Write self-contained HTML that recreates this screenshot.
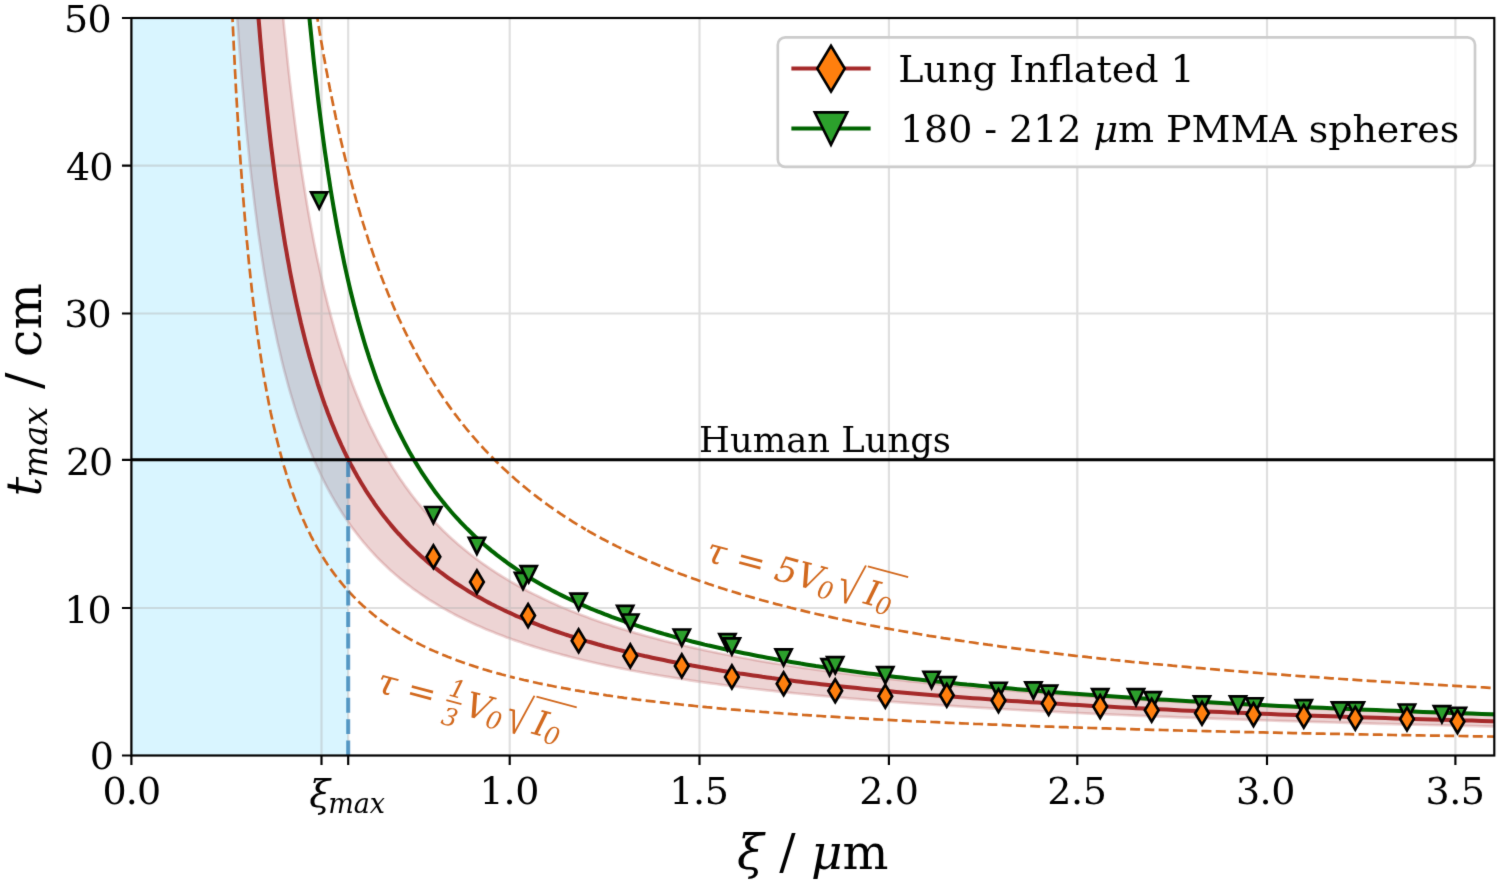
<!DOCTYPE html>
<html lang="en"><head><meta charset="utf-8"><title>t_max vs xi</title>
<style>html,body{margin:0;padding:0;background:#fff;overflow:hidden}svg{display:block}text{font-family:'DejaVu Serif',serif;white-space:pre;font-kerning:none}.i{font-style:italic}.n{font-style:normal}</style></head><body>
<svg width="1499" height="883" viewBox="0 0 1499 883">
<rect width="1499" height="883" fill="#fff"/>
<filter id="b" x="0" y="0" width="1499" height="883" filterUnits="userSpaceOnUse" color-interpolation-filters="sRGB"><feConvolveMatrix order="3" kernelMatrix="0.0100 0.0800 0.0100 0.0800 0.6400 0.0800 0.0100 0.0800 0.0100" edgeMode="duplicate" preserveAlpha="true"/></filter><g filter="url(#b)"><rect width="1499" height="883" fill="#fff"/>
<clipPath id="ax"><rect x="131.40" y="18.00" width="1362.90" height="737.50"/></clipPath>
<g clip-path="url(#ax)">
<path d="M218.5,-405.8L219.3,-377.8L220.1,-350.8L220.9,-324.8L221.8,-299.8L222.6,-275.7L223.4,-252.4L224.3,-230.0L225.2,-208.4L226.0,-187.5L226.9,-167.3L227.8,-147.8L228.7,-129.0L229.6,-110.7L230.5,-93.0L231.4,-75.9L232.4,-59.3L233.3,-43.2L234.2,-27.5L235.2,-12.4L236.2,2.3L237.1,16.6L238.1,30.5L239.1,44.0L240.1,57.1L241.1,69.9L242.1,82.3L243.2,94.4L244.2,106.1L245.2,117.6L246.3,128.7L247.4,139.6L248.5,150.2L249.5,160.5L250.6,170.6L251.7,180.4L252.9,190.0L254.0,199.4L255.1,208.5L256.3,217.4L257.4,226.2L258.6,234.7L259.8,243.0L261.0,251.1L262.2,259.1L263.4,266.9L264.6,274.5L265.9,281.9L267.1,289.2L268.4,296.3L269.6,303.3L270.9,310.1L272.2,316.8L273.5,323.3L274.9,329.7L276.2,336.0L277.5,342.2L278.9,348.2L280.3,354.1L281.6,359.9L283.0,365.6L284.4,371.1L285.9,376.6L287.3,382.0L288.7,387.2L290.2,392.4L291.7,397.4L293.2,402.4L294.7,407.3L296.2,412.1L297.7,416.8L299.3,421.4L300.8,425.9L302.4,430.4L304.0,434.7L305.6,439.0L307.2,443.2L308.8,447.4L310.5,451.5L312.2,455.5L313.8,459.4L315.5,463.3L317.2,467.1L319.0,470.8L320.7,474.5L322.5,478.1L324.2,481.7L326.0,485.2L327.8,488.6L329.7,492.0L331.5,495.3L333.4,498.6L335.2,501.8L337.1,505.0L339.0,508.1L341.0,511.2L342.9,514.2L344.9,517.2L346.9,520.1L348.9,523.0L350.9,525.9L352.9,528.7L355.0,531.4L357.1,534.2L359.2,536.8L361.3,539.5L363.4,542.1L365.6,544.6L367.7,547.1L369.9,549.6L372.2,552.1L374.4,554.5L376.6,556.9L378.9,559.2L381.2,561.5L383.5,563.8L385.9,566.0L388.2,568.3L390.6,570.4L393.0,572.6L395.5,574.7L397.9,576.8L400.4,578.9L402.9,580.9L405.4,582.9L408.0,584.9L410.5,586.8L413.1,588.8L415.7,590.7L418.4,592.5L421.1,594.4L423.7,596.2L426.5,598.0L429.2,599.8L432.0,601.5L434.8,603.2L437.6,604.9L440.4,606.6L443.3,608.3L446.2,609.9L449.1,611.5L452.1,613.1L455.0,614.7L458.0,616.3L461.1,617.8L464.1,619.3L467.2,620.8L470.3,622.3L473.5,623.7L476.7,625.2L479.9,626.6L483.1,628.0L486.4,629.4L489.7,630.8L493.0,632.1L496.4,633.5L499.8,634.8L503.2,636.1L506.6,637.4L510.1,638.6L513.6,639.9L517.2,641.1L520.8,642.3L524.4,643.6L528.0,644.7L531.7,645.9L535.4,647.1L539.2,648.2L543.0,649.4L546.8,650.5L550.7,651.6L554.6,652.7L558.5,653.8L562.5,654.9L566.5,655.9L570.5,657.0L574.6,658.0L578.7,659.0L582.8,660.0L587.0,661.0L591.3,662.0L595.5,663.0L599.9,664.0L604.2,664.9L608.6,665.9L613.0,666.8L617.5,667.7L622.0,668.6L626.6,669.5L631.2,670.4L635.8,671.3L640.5,672.1L645.2,673.0L650.0,673.8L654.8,674.7L659.7,675.5L664.6,676.3L669.5,677.1L674.5,677.9L679.6,678.7L684.7,679.5L689.8,680.3L695.0,681.1L700.2,681.8L705.5,682.6L710.9,683.3L716.2,684.0L721.7,684.8L727.2,685.5L732.7,686.2L738.3,686.9L743.9,687.6L749.6,688.3L755.3,689.0L761.1,689.6L767.0,690.3L772.9,690.9L778.8,691.6L784.9,692.2L790.9,692.9L797.1,693.5L803.2,694.1L809.5,694.7L815.8,695.3L822.1,695.9L828.5,696.5L835.0,697.1L841.6,697.7L848.2,698.3L854.8,698.8L861.5,699.4L868.3,700.0L875.2,700.5L882.1,701.1L889.0,701.6L896.1,702.1L903.2,702.7L910.3,703.2L917.6,703.7L924.9,704.2L932.3,704.7L939.7,705.2L947.2,705.7L954.8,706.2L962.4,706.7L970.1,707.2L977.9,707.7L985.8,708.1L993.7,708.6L1001.7,709.0L1009.8,709.5L1018.0,710.0L1026.2,710.4L1034.5,710.8L1042.9,711.3L1051.4,711.7L1059.9,712.1L1068.6,712.6L1077.3,713.0L1086.0,713.4L1094.9,713.8L1103.9,714.2L1112.9,714.6L1122.0,715.0L1131.2,715.4L1140.5,715.8L1149.9,716.2L1159.3,716.6L1168.9,716.9L1178.5,717.3L1188.2,717.7L1198.1,718.1L1208.0,718.4L1218.0,718.8L1228.1,719.1L1238.2,719.5L1248.5,719.8L1258.9,720.2L1269.4,720.5L1279.9,720.9L1290.6,721.2L1301.4,721.5L1312.3,721.9L1323.2,722.2L1334.3,722.5L1345.5,722.8L1356.7,723.1L1368.1,723.4L1379.6,723.8L1391.2,724.1L1402.9,724.4L1414.7,724.7L1426.6,725.0L1438.7,725.2L1450.8,725.5L1463.1,725.8L1475.4,726.1L1487.9,726.4L1500.5,726.7L1513.2,726.9L1513.2,715.7L1500.5,715.3L1487.9,714.9L1475.4,714.5L1463.1,714.1L1450.8,713.7L1438.7,713.3L1426.6,712.9L1414.7,712.4L1402.9,712.0L1391.2,711.6L1379.6,711.1L1368.1,710.7L1356.7,710.3L1345.5,709.8L1334.3,709.3L1323.2,708.9L1312.3,708.4L1301.4,707.9L1290.6,707.5L1279.9,707.0L1269.4,706.5L1258.9,706.0L1248.5,705.5L1238.2,705.0L1228.1,704.5L1218.0,704.0L1208.0,703.5L1198.1,703.0L1188.2,702.4L1178.5,701.9L1168.9,701.4L1159.3,700.8L1149.9,700.3L1140.5,699.7L1131.2,699.1L1122.0,698.6L1112.9,698.0L1103.9,697.4L1094.9,696.8L1086.0,696.2L1077.3,695.6L1068.6,695.0L1059.9,694.4L1051.4,693.8L1042.9,693.1L1034.5,692.5L1026.2,691.9L1018.0,691.2L1009.8,690.5L1001.7,689.9L993.7,689.2L985.8,688.5L977.9,687.8L970.1,687.1L962.4,686.4L954.8,685.7L947.2,685.0L939.7,684.3L932.3,683.5L924.9,682.8L917.6,682.0L910.3,681.3L903.2,680.5L896.1,679.7L889.0,678.9L882.1,678.1L875.2,677.3L868.3,676.5L861.5,675.7L854.8,674.9L848.2,674.0L841.6,673.2L835.0,672.3L828.5,671.4L822.1,670.5L815.8,669.6L809.5,668.7L803.2,667.8L797.1,666.9L790.9,665.9L784.9,665.0L778.8,664.0L772.9,663.1L767.0,662.1L761.1,661.1L755.3,660.1L749.6,659.0L743.9,658.0L738.3,657.0L732.7,655.9L727.2,654.8L721.7,653.7L716.2,652.6L710.9,651.5L705.5,650.4L700.2,649.3L695.0,648.1L689.8,646.9L684.7,645.8L679.6,644.6L674.5,643.3L669.5,642.1L664.6,640.9L659.7,639.6L654.8,638.3L650.0,637.0L645.2,635.7L640.5,634.4L635.8,633.1L631.2,631.7L626.6,630.3L622.0,628.9L617.5,627.5L613.0,626.1L608.6,624.6L604.2,623.2L599.9,621.7L595.5,620.2L591.3,618.7L587.0,617.1L582.8,615.5L578.7,613.9L574.6,612.3L570.5,610.7L566.5,609.0L562.5,607.4L558.5,605.7L554.6,603.9L550.7,602.2L546.8,600.4L543.0,598.6L539.2,596.8L535.4,594.9L531.7,593.1L528.0,591.2L524.4,589.2L520.8,587.3L517.2,585.3L513.6,583.3L510.1,581.3L506.6,579.2L503.2,577.1L499.8,575.0L496.4,572.8L493.0,570.6L489.7,568.4L486.4,566.1L483.1,563.8L479.9,561.5L476.7,559.1L473.5,556.7L470.3,554.3L467.2,551.8L464.1,549.3L461.1,546.8L458.0,544.2L455.0,541.6L452.1,538.9L449.1,536.2L446.2,533.5L443.3,530.7L440.4,527.8L437.6,524.9L434.8,522.0L432.0,519.0L429.2,516.0L426.5,512.9L423.7,509.8L421.1,506.6L418.4,503.4L415.7,500.1L413.1,496.7L410.5,493.4L408.0,489.9L405.4,486.4L402.9,482.8L400.4,479.2L397.9,475.5L395.5,471.7L393.0,467.9L390.6,464.0L388.2,460.0L385.9,455.9L383.5,451.8L381.2,447.6L378.9,443.4L376.6,439.0L374.4,434.6L372.2,430.1L369.9,425.5L367.7,420.8L365.6,416.0L363.4,411.1L361.3,406.2L359.2,401.1L357.1,396.0L355.0,390.7L352.9,385.3L350.9,379.8L348.9,374.3L346.9,368.6L344.9,362.7L342.9,356.8L341.0,350.7L339.0,344.5L337.1,338.2L335.2,331.7L333.4,325.1L331.5,318.3L329.7,311.4L327.8,304.4L326.0,297.1L324.2,289.7L322.5,282.2L320.7,274.5L319.0,266.5L317.2,258.4L315.5,250.1L313.8,241.6L312.2,232.9L310.5,224.0L308.8,214.8L307.2,205.4L305.6,195.8L304.0,185.9L302.4,175.8L300.8,165.4L299.3,154.7L297.7,143.7L296.2,132.5L294.7,120.9L293.2,109.0L291.7,96.7L290.2,84.1L288.7,71.1L287.3,57.8L285.9,44.0L284.4,29.8L283.0,15.2L281.6,0.1L280.3,-15.4L278.9,-31.5L277.5,-48.1L276.2,-65.2L274.9,-83.0L273.5,-101.3L272.2,-120.2L270.9,-139.9L269.6,-160.2L268.4,-181.3L267.1,-203.2L265.9,-225.9L264.6,-249.5L263.4,-274.0L262.2,-299.5L261.0,-326.0L259.8,-353.7L258.6,-382.5L257.4,-412.6L256.3,-424.5L255.1,-424.5L254.0,-424.5L252.9,-424.5L251.7,-424.5L250.6,-424.5L249.5,-424.5L248.5,-424.5L247.4,-424.5L246.3,-424.5L245.2,-424.5L244.2,-424.5L243.2,-424.5L242.1,-424.5L241.1,-424.5L240.1,-424.5L239.1,-424.5L238.1,-424.5L237.1,-424.5L236.2,-424.5L235.2,-424.5L234.2,-424.5L233.3,-424.5L232.4,-424.5L231.4,-424.5L230.5,-424.5L229.6,-424.5L228.7,-424.5L227.8,-424.5L226.9,-424.5L226.0,-424.5L225.2,-424.5L224.3,-424.5L223.4,-424.5L222.6,-424.5L221.8,-424.5L220.9,-424.5L220.1,-424.5L219.3,-424.5L218.5,-424.5Z" fill="#a52a2a" fill-opacity="0.2" stroke="#a52a2a" stroke-opacity="0.2" stroke-width="2.69" stroke-linejoin="miter"/>
<path d="M131.4,755.5L131.4,-55.8L245.0,-55.8L246.0,-55.8L247.1,-55.8L248.1,-55.8L249.1,-55.8L250.2,-55.8L251.2,-55.8L252.3,-55.8L253.3,-51.6L254.4,-36.6L255.4,-22.1L256.4,-8.2L257.5,5.3L258.5,18.3L259.6,30.8L260.6,43.0L261.7,54.7L262.7,66.0L263.7,77.0L264.8,87.7L265.8,98.0L266.9,108.0L267.9,117.7L269.0,127.1L270.0,136.2L271.0,145.1L272.1,153.7L273.1,162.1L274.2,170.3L275.2,178.2L276.3,185.9L277.3,193.4L278.3,200.8L279.4,207.9L280.4,214.8L281.5,221.6L282.5,228.2L283.6,234.7L284.6,241.0L285.6,247.1L286.7,253.1L287.7,259.0L288.8,264.7L289.8,270.3L290.9,275.8L291.9,281.1L292.9,286.3L294.0,291.4L295.0,296.4L296.1,301.3L297.1,306.1L298.2,310.8L299.2,315.4L300.2,319.9L301.3,324.3L302.3,328.7L303.4,332.9L304.4,337.0L305.5,341.1L306.5,345.1L307.5,349.0L308.6,352.9L309.6,356.6L310.7,360.3L311.7,364.0L312.8,367.5L313.8,371.0L314.8,374.5L315.9,377.9L316.9,381.2L318.0,384.4L319.0,387.6L320.1,390.8L321.1,393.9L322.1,396.9L323.2,399.9L324.2,402.9L325.3,405.8L326.3,408.6L327.4,411.4L328.4,414.2L329.4,416.9L330.5,419.6L331.5,422.2L332.6,424.8L333.6,427.3L334.7,429.8L335.7,432.3L336.7,434.8L337.8,437.1L338.8,439.5L339.9,441.8L340.9,444.1L342.0,446.4L343.0,448.6L344.0,450.8L345.1,453.0L346.1,455.1L347.2,457.2L348.2,459.3L348.2,755.5Z" fill="#00bfff" fill-opacity="0.15"/>
</g>
<path d="M131.40,755.50V18.00M321.50,755.50V18.00M348.20,755.50V18.00M509.70,755.50V18.00M699.50,755.50V18.00M888.90,755.50V18.00M1077.30,755.50V18.00M1267.00,755.50V18.00M1455.40,755.50V18.00M131.40,755.50H1494.30M131.40,608.00H1494.30M131.40,459.80H1494.30M131.40,313.50H1494.30M131.40,165.70H1494.30M131.40,18.00H1494.30" stroke="#b0b0b0" stroke-opacity="0.4" stroke-width="2.16" fill="none"/>
<g clip-path="url(#ax)" fill="none">
<path d="M252.9,-57.3L253.8,-44.1L254.7,-31.3L255.7,-18.7L256.6,-6.5L257.5,5.4L258.4,17.1L259.4,28.5L260.3,39.6L261.3,50.5L262.2,61.1L263.2,71.5L264.2,81.6L265.2,91.5L266.2,101.2L267.2,110.7L268.2,120.0L269.2,129.1L270.2,138.0L271.2,146.7L272.3,155.2L273.3,163.6L274.4,171.8L275.4,179.8L276.5,187.7L277.6,195.4L278.7,202.9L279.8,210.3L280.9,217.6L282.0,224.7L283.1,231.7L284.2,238.6L285.3,245.3L286.5,251.9L287.6,258.4L288.8,264.7L289.9,271.0L291.1,277.1L292.3,283.1L293.5,289.1L294.7,294.9L295.9,300.6L297.1,306.2L298.4,311.7L299.6,317.1L300.8,322.5L302.1,327.7L303.4,332.9L304.6,337.9L305.9,342.9L307.2,347.8L308.5,352.6L309.8,357.4L311.2,362.0L312.5,366.6L313.8,371.2L315.2,375.6L316.6,380.0L317.9,384.3L319.3,388.5L320.7,392.7L322.1,396.8L323.5,400.9L324.9,404.9L326.4,408.8L327.8,412.7L329.3,416.5L330.7,420.2L332.2,423.9L333.7,427.6L335.2,431.2L336.7,434.7L338.2,438.2L339.8,441.6L341.3,445.0L342.9,448.4L344.4,451.7L346.0,454.9L347.6,458.1L349.2,461.3L350.8,464.4L352.5,467.5L354.1,470.5L355.8,473.5L357.4,476.4L359.1,479.3L360.8,482.2L362.5,485.0L364.2,487.8L365.9,490.6L367.7,493.3L369.4,496.0L371.2,498.6L373.0,501.2L374.7,503.8L376.5,506.4L378.4,508.9L380.2,511.4L382.0,513.8L383.9,516.2L385.8,518.6L387.7,521.0L389.6,523.3L391.5,525.6L393.4,527.9L395.3,530.1L397.3,532.4L399.3,534.5L401.3,536.7L403.3,538.8L405.3,540.9L407.3,543.0L409.3,545.1L411.4,547.1L413.5,549.1L415.6,551.1L417.7,553.1L419.8,555.0L421.9,556.9L424.1,558.8L426.3,560.7L428.5,562.6L430.7,564.4L432.9,566.2L435.1,568.0L437.4,569.7L439.6,571.5L441.9,573.2L444.2,574.9L446.5,576.6L448.9,578.3L451.2,579.9L453.6,581.6L456.0,583.2L458.4,584.8L460.8,586.3L463.3,587.9L465.7,589.4L468.2,591.0L470.7,592.5L473.2,594.0L475.7,595.4L478.3,596.9L480.9,598.3L483.5,599.8L486.1,601.2L488.7,602.6L491.3,604.0L494.0,605.3L496.7,606.7L499.4,608.0L502.1,609.3L504.9,610.7L507.7,612.0L510.4,613.2L513.3,614.5L516.1,615.8L518.9,617.0L521.8,618.2L524.7,619.5L527.6,620.7L530.6,621.9L533.5,623.0L536.5,624.2L539.5,625.4L542.5,626.5L545.6,627.6L548.7,628.8L551.7,629.9L554.9,631.0L558.0,632.0L561.2,633.1L564.3,634.2L567.6,635.2L570.8,636.3L574.0,637.3L577.3,638.3L580.6,639.4L584.0,640.4L587.3,641.4L590.7,642.3L594.1,643.3L597.5,644.3L601.0,645.2L604.5,646.2L608.0,647.1L611.5,648.0L615.1,649.0L618.7,649.9L622.3,650.8L625.9,651.7L629.6,652.5L633.3,653.4L637.0,654.3L640.7,655.1L644.5,656.0L648.3,656.8L652.2,657.7L656.0,658.5L659.9,659.3L663.8,660.1L667.8,660.9L671.7,661.7L675.8,662.5L679.8,663.3L683.9,664.0L688.0,664.8L692.1,665.6L696.2,666.3L700.4,667.1L704.6,667.8L708.9,668.5L713.2,669.3L717.5,670.0L721.8,670.7L726.2,671.4L730.6,672.1L735.1,672.8L739.5,673.5L744.0,674.1L748.6,674.8L753.2,675.5L757.8,676.1L762.4,676.8L767.1,677.4L771.8,678.1L776.6,678.7L781.3,679.3L786.2,680.0L791.0,680.6L795.9,681.2L800.8,681.8L805.8,682.4L810.8,683.0L815.8,683.6L820.9,684.2L826.0,684.8L831.2,685.3L836.4,685.9L841.6,686.5L846.8,687.0L852.1,687.6L857.5,688.1L862.9,688.7L868.3,689.2L873.8,689.8L879.3,690.3L884.8,690.8L890.4,691.3L896.0,691.9L901.7,692.4L907.4,692.9L913.2,693.4L918.9,693.9L924.8,694.4L930.7,694.9L936.6,695.4L942.6,695.8L948.6,696.3L954.6,696.8L960.7,697.3L966.9,697.7L973.1,698.2L979.3,698.6L985.6,699.1L991.9,699.5L998.3,700.0L1004.7,700.4L1011.2,700.9L1017.7,701.3L1024.3,701.7L1030.9,702.2L1037.6,702.6L1044.3,703.0L1051.1,703.4L1057.9,703.8L1064.8,704.3L1071.7,704.7L1078.7,705.1L1085.7,705.5L1092.8,705.9L1099.9,706.2L1107.1,706.6L1114.3,707.0L1121.6,707.4L1128.9,707.8L1136.3,708.2L1143.8,708.5L1151.3,708.9L1158.9,709.3L1166.5,709.6L1174.1,710.0L1181.9,710.4L1189.7,710.7L1197.5,711.1L1205.4,711.4L1213.4,711.8L1221.4,712.1L1229.5,712.4L1237.6,712.8L1245.8,713.1L1254.1,713.4L1262.4,713.8L1270.8,714.1L1279.2,714.4L1287.7,714.7L1296.3,715.1L1305.0,715.4L1313.7,715.7L1322.4,716.0L1331.3,716.3L1340.1,716.6L1349.1,716.9L1358.1,717.2L1367.2,717.5L1376.4,717.8L1385.6,718.1L1394.9,718.4L1404.3,718.7L1413.7,719.0L1423.2,719.2L1432.8,719.5L1442.5,719.8L1452.2,720.1L1462.0,720.4L1471.8,720.6L1481.8,720.9L1491.8,721.2L1501.9,721.4" stroke="#a52a2a" stroke-width="4.04"/>
<path d="M302.1,-68.7L303.4,-52.4L304.6,-36.6L305.9,-21.3L307.2,-6.4L308.5,8.0L309.8,21.9L311.2,35.5L312.5,48.6L313.8,61.4L315.2,73.8L316.6,85.8L317.9,97.5L319.3,108.9L320.7,120.0L322.1,130.8L323.5,141.3L324.9,151.6L326.4,161.6L327.8,171.3L329.3,180.7L330.7,190.0L332.2,199.0L333.7,207.8L335.2,216.4L336.7,224.8L338.2,232.9L339.8,240.9L341.3,248.7L342.9,256.4L344.4,263.8L346.0,271.1L347.6,278.2L349.2,285.2L350.8,292.0L352.5,298.7L354.1,305.2L355.8,311.6L357.4,317.9L359.1,324.0L360.8,330.0L362.5,335.9L364.2,341.7L365.9,347.3L367.7,352.9L369.4,358.3L371.2,363.6L373.0,368.8L374.7,373.9L376.5,379.0L378.4,383.9L380.2,388.7L382.0,393.5L383.9,398.1L385.8,402.7L387.7,407.2L389.6,411.6L391.5,415.9L393.4,420.2L395.3,424.4L397.3,428.5L399.3,432.5L401.3,436.5L403.3,440.4L405.3,444.2L407.3,448.0L409.3,451.7L411.4,455.3L413.5,458.9L415.6,462.4L417.7,465.9L419.8,469.3L421.9,472.6L424.1,475.9L426.3,479.2L428.5,482.4L430.7,485.5L432.9,488.6L435.1,491.7L437.4,494.7L439.6,497.6L441.9,500.6L444.2,503.4L446.5,506.2L448.9,509.0L451.2,511.8L453.6,514.5L456.0,517.1L458.4,519.7L460.8,522.3L463.3,524.9L465.7,527.4L468.2,529.8L470.7,532.3L473.2,534.7L475.7,537.1L478.3,539.4L480.9,541.7L483.5,544.0L486.1,546.2L488.7,548.4L491.3,550.6L494.0,552.7L496.7,554.9L499.4,556.9L502.1,559.0L504.9,561.0L507.7,563.1L510.4,565.0L513.3,567.0L516.1,568.9L518.9,570.8L521.8,572.7L524.7,574.6L527.6,576.4L530.6,578.2L533.5,580.0L536.5,581.7L539.5,583.5L542.5,585.2L545.6,586.9L548.7,588.6L551.7,590.2L554.9,591.9L558.0,593.5L561.2,595.1L564.3,596.6L567.6,598.2L570.8,599.7L574.0,601.2L577.3,602.7L580.6,604.2L584.0,605.7L587.3,607.1L590.7,608.6L594.1,610.0L597.5,611.4L601.0,612.7L604.5,614.1L608.0,615.4L611.5,616.8L615.1,618.1L618.7,619.4L622.3,620.7L625.9,621.9L629.6,623.2L633.3,624.4L637.0,625.7L640.7,626.9L644.5,628.1L648.3,629.3L652.2,630.4L656.0,631.6L659.9,632.7L663.8,633.9L667.8,635.0L671.7,636.1L675.8,637.2L679.8,638.3L683.9,639.4L688.0,640.4L692.1,641.5L696.2,642.5L700.4,643.5L704.6,644.6L708.9,645.6L713.2,646.5L717.5,647.5L721.8,648.5L726.2,649.5L730.6,650.4L735.1,651.4L739.5,652.3L744.0,653.2L748.6,654.1L753.2,655.0L757.8,655.9L762.4,656.8L767.1,657.7L771.8,658.5L776.6,659.4L781.3,660.3L786.2,661.1L791.0,661.9L795.9,662.7L800.8,663.6L805.8,664.4L810.8,665.2L815.8,666.0L820.9,666.7L826.0,667.5L831.2,668.3L836.4,669.0L841.6,669.8L846.8,670.5L852.1,671.3L857.5,672.0L862.9,672.7L868.3,673.4L873.8,674.1L879.3,674.8L884.8,675.5L890.4,676.2L896.0,676.9L901.7,677.6L907.4,678.2L913.2,678.9L918.9,679.5L924.8,680.2L930.7,680.8L936.6,681.5L942.6,682.1L948.6,682.7L954.6,683.3L960.7,683.9L966.9,684.6L973.1,685.1L979.3,685.7L985.6,686.3L991.9,686.9L998.3,687.5L1004.7,688.1L1011.2,688.6L1017.7,689.2L1024.3,689.7L1030.9,690.3L1037.6,690.8L1044.3,691.4L1051.1,691.9L1057.9,692.4L1064.8,693.0L1071.7,693.5L1078.7,694.0L1085.7,694.5L1092.8,695.0L1099.9,695.5L1107.1,696.0L1114.3,696.5L1121.6,697.0L1128.9,697.5L1136.3,698.0L1143.8,698.4L1151.3,698.9L1158.9,699.4L1166.5,699.8L1174.1,700.3L1181.9,700.7L1189.7,701.2L1197.5,701.6L1205.4,702.1L1213.4,702.5L1221.4,702.9L1229.5,703.4L1237.6,703.8L1245.8,704.2L1254.1,704.6L1262.4,705.0L1270.8,705.5L1279.2,705.9L1287.7,706.3L1296.3,706.7L1305.0,707.1L1313.7,707.5L1322.4,707.8L1331.3,708.2L1340.1,708.6L1349.1,709.0L1358.1,709.4L1367.2,709.7L1376.4,710.1L1385.6,710.5L1394.9,710.8L1404.3,711.2L1413.7,711.5L1423.2,711.9L1432.8,712.3L1442.5,712.6L1452.2,712.9L1462.0,713.3L1471.8,713.6L1481.8,714.0L1491.8,714.3L1501.9,714.6" stroke="#006400" stroke-width="4.04"/>
<path d="M308.6,-41.0L309.2,-36.2L309.9,-31.4L310.6,-26.6L311.3,-21.9L311.9,-17.2L312.6,-12.6L313.3,-8.0L314.0,-3.4L314.7,1.1L315.4,5.6L316.1,10.1L316.8,14.5L317.5,18.9L318.2,23.2L318.9,27.6L319.6,31.8L320.3,36.1L321.0,40.3L321.8,44.5L322.5,48.6L323.2,52.7L323.9,56.8L324.7,60.8L325.4,64.9L326.1,68.9L326.9,72.8L327.6,76.7L328.3,80.6L329.1,84.5L329.8,88.3L330.6,92.1L331.4,95.9L332.1,99.6L332.9,103.4L333.6,107.1L334.4,110.7L335.2,114.4L335.9,118.0L336.7,121.5L337.5,125.1L338.3,128.6L339.1,132.1L339.8,135.6L340.6,139.1L341.4,142.5L342.2,145.9L343.0,149.3L343.8,152.6L344.6,155.9L345.4,159.2L346.2,162.5L347.1,165.8L347.9,169.0L348.7,172.2L349.5,175.4L350.3,178.6L351.2,181.7L352.0,184.8L352.8,187.9L353.7,191.0L354.5,194.0L355.4,197.1L356.2,200.1L357.1,203.1L357.9,206.0L358.8,209.0L359.7,211.9L360.5,214.8L361.4,217.7L362.3,220.6L363.1,223.4L364.0,226.2L364.9,229.1L365.8,231.8L366.7,234.6L367.6,237.4L368.4,240.1L369.3,242.8L370.2,245.5L371.2,248.2L372.1,250.8L373.0,253.5L373.9,256.1L374.8,258.7L375.7,261.3L376.7,263.9L377.6,266.4L378.5,269.0L379.5,271.5L380.4,274.0L381.3,276.5L382.3,278.9L383.2,281.4L384.2,283.8L385.1,286.3L386.1,288.7L387.1,291.1L388.0,293.4L389.0,295.8L390.0,298.2L391.0,300.5L392.0,302.8L392.9,305.1L393.9,307.4L394.9,309.7L395.9,311.9L396.9,314.2L397.9,316.4L398.9,318.6L400.0,320.8L401.0,323.0L402.0,325.2L403.0,327.3L404.1,329.5L405.1,331.6L406.1,333.7L407.2,335.8L408.2,337.9L409.3,340.0L410.3,342.1L411.4,344.1L412.4,346.2L413.5,348.2L414.6,350.2L415.6,352.2L416.7,354.2L417.8,356.2L418.9,358.2L420.0,360.1L421.1,362.1L422.2,364.0L423.3,365.9L424.4,367.8L425.5,369.7L426.6,371.6L427.7,373.5L428.8,375.4L430.0,377.2L431.1,379.1L432.2,380.9L433.4,382.7L434.5,384.5L435.7,386.3L436.8,388.1L438.0,389.9L439.1,391.6L440.3,393.4L441.5,395.1L442.6,396.9L443.8,398.6L445.0,400.3L446.2,402.0L447.4,403.7L448.6,405.4L449.8,407.1L451.0,408.8L452.2,410.4L453.4,412.1L454.6,413.7L455.9,415.3L457.1,416.9L458.3,418.5L459.6,420.1L460.8,421.7L462.1,423.3L463.3,424.9L464.6,426.5L465.8,428.0L467.1,429.6L468.4,431.1L469.6,432.6L470.9,434.1L472.2,435.7L473.5,437.2L474.8,438.7L476.1,440.1L477.4,441.6L478.7,443.1L480.0,444.6L481.4,446.0L482.7,447.5L484.0,448.9L485.3,450.3L486.7,451.7L488.0,453.2L489.4,454.6L490.7,456.0L492.1,457.3L493.5,458.7L494.8,460.1L496.2,461.5L497.6,462.8L499.0,464.2L500.4,465.5L501.8,466.9L503.2,468.2L504.6,469.5L506.0,470.8L507.4,472.1L508.9,473.5L510.3,474.7L511.7,476.0L513.2,477.3L514.6,478.6L516.1,479.9L517.5,481.1L519.0,482.4L520.4,483.6L521.9,484.9L523.4,486.1L524.9,487.3L526.4,488.5L527.9,489.8L529.4,491.0L530.9,492.2L532.4,493.4L533.9,494.5L535.4,495.7L537.0,496.9L538.5,498.1L540.1,499.2L541.6,500.4L543.2,501.5L544.7,502.7L546.3,503.8L547.9,505.0L549.4,506.1L551.0,507.2L552.6,508.3L554.2,509.4L555.8,510.5L557.4,511.6L559.0,512.7L560.6,513.8L562.3,514.9L563.9,516.0L565.5,517.0L567.2,518.1L568.8,519.2L570.5,520.2L572.2,521.3L573.8,522.3L575.5,523.4L577.2,524.4L578.9,525.4L580.6,526.4L582.3,527.4L584.0,528.5L585.7,529.5" stroke="#d2691e" stroke-width="2.69" stroke-dasharray="9.97 4.31" stroke-dashoffset="3.65"/>
<path d="M585.7,529.5L587.7,530.6L589.7,531.8L591.8,533.0L593.8,534.1L595.9,535.3L597.9,536.4L600.0,537.5L602.1,538.7L604.2,539.8L606.3,540.9L608.4,542.0L610.5,543.1L612.7,544.2L614.8,545.3L616.9,546.4L619.1,547.4L621.3,548.5L623.4,549.6L625.6,550.6L627.8,551.7L630.0,552.7L632.3,553.7L634.5,554.8L636.7,555.8L639.0,556.8L641.2,557.8L643.5,558.8L645.8,559.8L648.0,560.8L650.3,561.8L652.6,562.8L655.0,563.8L657.3,564.8L659.6,565.7L662.0,566.7L664.3,567.6L666.7,568.6L669.1,569.5L671.5,570.5L673.9,571.4L676.3,572.3L678.7,573.3L681.1,574.2L683.6,575.1L686.0,576.0L688.5,576.9L691.0,577.8L693.5,578.7L696.0,579.6L698.5,580.5L701.0,581.4L703.5,582.2L706.1,583.1L708.6,584.0L711.2,584.8L713.8,585.7L716.3,586.5L718.9,587.4L721.6,588.2L724.2,589.0L726.8,589.9L729.5,590.7L732.1,591.5L734.8,592.3L737.5,593.1L740.2,594.0L742.9,594.8L745.6,595.6L748.3,596.3L751.1,597.1L753.8,597.9L756.6,598.7L759.4,599.5L762.1,600.3L764.9,601.0L767.8,601.8L770.6,602.5L773.4,603.3L776.3,604.1L779.2,604.8L782.0,605.5L784.9,606.3L787.8,607.0L790.7,607.8L793.7,608.5L796.6,609.2L799.6,609.9L802.5,610.6L805.5,611.4L808.5,612.1L811.5,612.8L814.6,613.5L817.6,614.2L820.6,614.9L823.7,615.5L826.8,616.2L829.9,616.9L833.0,617.6L836.1,618.3L839.2,618.9L842.4,619.6L845.5,620.3L848.7,620.9L851.9,621.6L855.1,622.2L858.3,622.9L861.5,623.5L864.8,624.2L868.0,624.8L871.3,625.5L874.6,626.1L877.9,626.7L881.2,627.3L884.6,628.0L887.9,628.6L891.3,629.2L894.6,629.8L898.0,630.4L901.4,631.0L904.9,631.6L908.3,632.2L911.8,632.8L915.2,633.4L918.7,634.0L922.2,634.6L925.7,635.2L929.2,635.8L932.8,636.3L936.4,636.9L939.9,637.5L943.5,638.1L947.1,638.6L950.8,639.2L954.4,639.8L958.1,640.3L961.7,640.9L965.4,641.4L969.1,642.0L972.9,642.5L976.6,643.1L980.4,643.6L984.1,644.1L987.9,644.7L991.7,645.2L995.5,645.7L999.4,646.3L1003.2,646.8L1007.1,647.3L1011.0,647.8L1014.9,648.3L1018.8,648.8L1022.8,649.4L1026.7,649.9L1030.7,650.4L1034.7,650.9L1038.7,651.4L1042.8,651.9L1046.8,652.4L1050.9,652.9L1055.0,653.3L1059.1,653.8L1063.2,654.3L1067.3,654.8L1071.5,655.3L1075.7,655.8L1079.9,656.2L1084.1,656.7L1088.3,657.2L1092.6,657.6L1096.9,658.1L1101.1,658.6L1105.5,659.0L1109.8,659.5L1114.1,660.0L1118.5,660.4L1122.9,660.9L1127.3,661.3L1131.7,661.8L1136.2,662.2L1140.6,662.6L1145.1,663.1L1149.6,663.5L1154.1,664.0L1158.7,664.4L1163.3,664.8L1167.8,665.2L1172.4,665.7L1177.1,666.1L1181.7,666.5L1186.4,666.9L1191.1,667.4L1195.8,667.8L1200.5,668.2L1205.3,668.6L1210.0,669.0L1214.8,669.4L1219.6,669.8L1224.5,670.2L1229.3,670.6L1234.2,671.0L1239.1,671.4L1244.0,671.8L1249.0,672.2L1254.0,672.6L1258.9,673.0L1264.0,673.4L1269.0,673.8L1274.0,674.2L1279.1,674.5L1284.2,674.9L1289.3,675.3L1294.5,675.7L1299.7,676.1L1304.9,676.4L1310.1,676.8L1315.3,677.2L1320.6,677.5L1325.9,677.9L1331.2,678.3L1336.5,678.6L1341.9,679.0L1347.2,679.3L1352.6,679.7L1358.1,680.1L1363.5,680.4L1369.0,680.8L1374.5,681.1L1380.0,681.5L1385.6,681.8L1391.1,682.1L1396.7,682.5L1402.4,682.8L1408.0,683.2L1413.7,683.5L1419.4,683.8L1425.1,684.2L1430.9,684.5L1436.6,684.8L1442.4,685.2L1448.3,685.5L1454.1,685.8L1460.0,686.2L1465.9,686.5L1471.8,686.8L1477.8,687.1L1483.8,687.4L1489.8,687.8L1495.8,688.1L1501.9,688.4" stroke="#d2691e" stroke-width="2.69" stroke-dasharray="9.97 4.31" stroke-dashoffset="12.49"/>
<path d="M230.0,-41.0L230.5,-27.4L231.1,-14.2L231.6,-1.4L232.2,11.1L232.7,23.2L233.3,35.0L233.8,46.5L234.4,57.7L234.9,68.6L235.5,79.2L236.0,89.6L236.6,99.6L237.2,109.5L237.8,119.1L238.3,128.5L238.9,137.6L239.5,146.5L240.1,155.3L240.7,163.8L241.3,172.1L241.9,180.3L242.4,188.2L243.1,196.0L243.7,203.6L244.3,211.1L244.9,218.4L245.5,225.5L246.1,232.5L246.7,239.3L247.4,246.0L248.0,252.6L248.6,259.0L249.2,265.3L249.9,271.5L250.5,277.5L251.2,283.5L251.8,289.3L252.5,295.0L253.1,300.6L253.8,306.1L254.5,311.5L255.1,316.8L255.8,322.0L256.5,327.1L257.1,332.1L257.8,337.0L258.5,341.8L259.2,346.6L259.9,351.3L260.6,355.8L261.3,360.3L262.0,364.8L262.7,369.1L263.4,373.4L264.1,377.6L264.8,381.8L265.6,385.8L266.3,389.8L267.0,393.8L267.8,397.7L268.5,401.5L269.2,405.2L270.0,408.9L270.7,412.6L271.5,416.1L272.3,419.7L273.0,423.1L273.8,426.6L274.6,429.9L275.3,433.2L276.1,436.5L276.9,439.7L277.7,442.9L278.5,446.0L279.3,449.1L280.1,452.1L280.9,455.1L281.7,458.1L282.5,461.0L283.3,463.9L284.1,466.7L285.0,469.5L285.8,472.2L286.6,474.9L287.5,477.6L288.3,480.2L289.2,482.8L290.0,485.4L290.9,487.9L291.8,490.4L292.6,492.9L293.5,495.3L294.4,497.7L295.3,500.1L296.1,502.4L297.0,504.7L297.9,507.0L298.8,509.3L299.7,511.5L300.7,513.7L301.6,515.9L302.5,518.0L303.4,520.1L304.4,522.2L305.3,524.3L306.2,526.3L307.2,528.3L308.1,530.3L309.1,532.2L310.1,534.2L311.0,536.1L312.0,538.0L313.0,539.9L314.0,541.7L314.9,543.5L315.9,545.3L316.9,547.1L317.9,548.9L319.0,550.6L320.0,552.4L321.0,554.1L322.0,555.8L323.0,557.4L324.1,559.1L325.1,560.7L326.2,562.3L327.2,563.9L328.3,565.5L329.4,567.0L330.4,568.6L331.5,570.1L332.6,571.6L333.7,573.1L334.8,574.6L335.9,576.0L337.0,577.5L338.1,578.9L339.2,580.3L340.4,581.7L341.5,583.1L342.6,584.5L343.8,585.8L344.9,587.1L346.1,588.5L347.2,589.8L348.4,591.1L349.6,592.4L350.8,593.6L352.0,594.9L353.1,596.1L354.4,597.4L355.6,598.6L356.8,599.8L358.0,601.0L359.2,602.2L360.5,603.4L361.7,604.5L362.9,605.7L364.2,606.8L365.5,607.9L366.7,609.1L368.0,610.2L369.3,611.3L370.6,612.3L371.9,613.4L373.2,614.5L374.5,615.5L375.8,616.6L377.1,617.6L378.5,618.6L379.8,619.7L381.1,620.7L382.5,621.7L383.9,622.6L385.2,623.6L386.6,624.6L388.0,625.5L389.4,626.5L390.8,627.4L392.2,628.4L393.6,629.3L395.0,630.2L396.4,631.1L397.9,632.0L399.3,632.9L400.8,633.8L402.2,634.7L403.7,635.5L405.2,636.4L406.6,637.2L408.1,638.1L409.6,638.9L411.1,639.8L412.7,640.6L414.2,641.4L415.7,642.2L417.3,643.0L418.8,643.8L420.4,644.6L421.9,645.4L423.5,646.1L425.1,646.9L426.7,647.7L428.3,648.4L429.9,649.2L431.5,649.9L433.1,650.6L434.8,651.4L436.4,652.1L438.1,652.8L439.7,653.5L441.4,654.2L443.1,654.9L444.8,655.6L446.5,656.3L448.2,657.0L449.9,657.6L451.6,658.3L453.3,659.0L455.1,659.6L456.8,660.3L458.6,660.9L460.4,661.6L462.2,662.2L463.9,662.8L465.7,663.5L467.6,664.1L469.4,664.7L471.2,665.3L473.0,665.9L474.9,666.5L476.8,667.1L478.6,667.7L480.5,668.3L482.4,668.9L484.3,669.5L486.2,670.0L488.1,670.6L490.1,671.2L492.0,671.7L494.0,672.3L495.9,672.8L497.9,673.4L499.9,673.9L501.9,674.5L503.9,675.0L505.9,675.5L507.9,676.0L510.0,676.6" stroke="#d2691e" stroke-width="2.69" stroke-dasharray="9.97 4.31" stroke-dashoffset="3.94"/>
<path d="M510.0,676.6L511.9,677.1L513.9,677.6L515.9,678.0L517.9,678.5L519.9,679.0L521.9,679.5L523.9,680.0L526.0,680.4L528.0,680.9L530.1,681.4L532.1,681.8L534.2,682.3L536.3,682.7L538.4,683.2L540.5,683.6L542.6,684.1L544.7,684.5L546.9,684.9L549.0,685.4L551.2,685.8L553.4,686.2L555.6,686.7L557.8,687.1L560.0,687.5L562.2,687.9L564.4,688.3L566.7,688.7L568.9,689.1L571.2,689.6L573.5,690.0L575.7,690.4L578.0,690.7L580.4,691.1L582.7,691.5L585.0,691.9L587.4,692.3L589.7,692.7L592.1,693.1L594.5,693.4L596.9,693.8L599.3,694.2L601.7,694.6L604.2,694.9L606.6,695.3L609.1,695.6L611.5,696.0L614.0,696.4L616.5,696.7L619.0,697.1L621.6,697.4L624.1,697.8L626.7,698.1L629.2,698.5L631.8,698.8L634.4,699.1L637.0,699.5L639.6,699.8L642.3,700.1L644.9,700.5L647.6,700.8L650.2,701.1L652.9,701.4L655.6,701.8L658.3,702.1L661.1,702.4L663.8,702.7L666.6,703.0L669.3,703.3L672.1,703.6L674.9,703.9L677.8,704.2L680.6,704.5L683.4,704.8L686.3,705.1L689.2,705.4L692.0,705.7L695.0,706.0L697.9,706.3L700.8,706.6L703.8,706.9L706.7,707.2L709.7,707.4L712.7,707.7L715.7,708.0L718.7,708.3L721.8,708.6L724.8,708.8L727.9,709.1L731.0,709.4L734.1,709.6L737.2,709.9L740.4,710.2L743.5,710.4L746.7,710.7L749.9,711.0L753.1,711.2L756.3,711.5L759.5,711.7L762.8,712.0L766.1,712.2L769.3,712.5L772.7,712.7L776.0,713.0L779.3,713.2L782.7,713.5L786.0,713.7L789.4,713.9L792.8,714.2L796.3,714.4L799.7,714.6L803.2,714.9L806.7,715.1L810.2,715.3L813.7,715.6L817.2,715.8L820.8,716.0L824.3,716.3L827.9,716.5L831.5,716.7L835.2,716.9L838.8,717.1L842.5,717.4L846.1,717.6L849.8,717.8L853.6,718.0L857.3,718.2L861.1,718.4L864.8,718.6L868.6,718.9L872.5,719.1L876.3,719.3L880.2,719.5L884.0,719.7L887.9,719.9L891.9,720.1L895.8,720.3L899.8,720.5L903.7,720.7L907.7,720.9L911.8,721.1L915.8,721.3L919.9,721.5L923.9,721.7L928.1,721.8L932.2,722.0L936.3,722.2L940.5,722.4L944.7,722.6L948.9,722.8L953.1,723.0L957.4,723.1L961.7,723.3L966.0,723.5L970.3,723.7L974.6,723.9L979.0,724.0L983.4,724.2L987.8,724.4L992.2,724.6L996.7,724.7L1001.2,724.9L1005.7,725.1L1010.2,725.3L1014.8,725.4L1019.4,725.6L1024.0,725.8L1028.6,725.9L1033.2,726.1L1037.9,726.3L1042.6,726.4L1047.3,726.6L1052.1,726.7L1056.8,726.9L1061.6,727.1L1066.4,727.2L1071.3,727.4L1076.1,727.5L1081.0,727.7L1086.0,727.8L1090.9,728.0L1095.9,728.1L1100.9,728.3L1105.9,728.4L1110.9,728.6L1116.0,728.7L1121.1,728.9L1126.2,729.0L1131.4,729.2L1136.6,729.3L1141.8,729.5L1147.0,729.6L1152.3,729.8L1157.6,729.9L1162.9,730.0L1168.2,730.2L1173.6,730.3L1179.0,730.5L1184.4,730.6L1189.9,730.7L1195.4,730.9L1200.9,731.0L1206.4,731.1L1212.0,731.3L1217.6,731.4L1223.2,731.5L1228.9,731.7L1234.5,731.8L1240.3,731.9L1246.0,732.1L1251.8,732.2L1257.6,732.3L1263.4,732.4L1269.3,732.6L1275.2,732.7L1281.1,732.8L1287.0,732.9L1293.0,733.1L1299.0,733.2L1305.1,733.3L1311.2,733.4L1317.3,733.6L1323.4,733.7L1329.6,733.8L1335.8,733.9L1342.1,734.0L1348.3,734.2L1354.6,734.3L1361.0,734.4L1367.3,734.5L1373.7,734.6L1380.2,734.7L1386.6,734.8L1393.1,735.0L1399.7,735.1L1406.2,735.2L1412.8,735.3L1419.5,735.4L1426.2,735.5L1432.9,735.6L1439.6,735.7L1446.4,735.8L1453.2,735.9L1460.0,736.0L1466.9,736.1L1473.8,736.3L1480.8,736.4L1487.8,736.5L1494.8,736.6L1501.9,736.7" stroke="#d2691e" stroke-width="2.69" stroke-dasharray="9.97 4.31" stroke-dashoffset="4.96"/>
</g>
<g clip-path="url(#ax)" stroke="#000" stroke-width="2.69" stroke-linejoin="miter">
<path d="M319.20,208.48L327.28,192.32L311.12,192.32Z" fill="#2ca02c"/>
<path d="M433.40,523.18L441.48,507.02L425.32,507.02Z" fill="#2ca02c"/>
<path d="M476.90,553.88L484.98,537.72L468.82,537.72Z" fill="#2ca02c"/>
<path d="M523.00,589.08L531.08,572.92L514.92,572.92Z" fill="#2ca02c"/>
<path d="M528.70,582.28L536.78,566.12L520.62,566.12Z" fill="#2ca02c"/>
<path d="M578.60,609.78L586.68,593.62L570.52,593.62Z" fill="#2ca02c"/>
<path d="M625.20,622.08L633.28,605.92L617.12,605.92Z" fill="#2ca02c"/>
<path d="M630.30,630.68L638.38,614.52L622.22,614.52Z" fill="#2ca02c"/>
<path d="M681.80,645.68L689.88,629.52L673.72,629.52Z" fill="#2ca02c"/>
<path d="M727.40,650.28L735.48,634.12L719.32,634.12Z" fill="#2ca02c"/>
<path d="M731.90,654.48L739.98,638.32L723.82,638.32Z" fill="#2ca02c"/>
<path d="M783.60,665.48L791.68,649.32L775.52,649.32Z" fill="#2ca02c"/>
<path d="M829.60,675.28L837.68,659.12L821.52,659.12Z" fill="#2ca02c"/>
<path d="M835.20,673.28L843.28,657.12L827.12,657.12Z" fill="#2ca02c"/>
<path d="M885.30,683.28L893.38,667.12L877.22,667.12Z" fill="#2ca02c"/>
<path d="M931.60,687.88L939.68,671.72L923.52,671.72Z" fill="#2ca02c"/>
<path d="M947.40,693.28L955.48,677.12L939.32,677.12Z" fill="#2ca02c"/>
<path d="M998.50,698.88L1006.58,682.72L990.42,682.72Z" fill="#2ca02c"/>
<path d="M1033.40,698.58L1041.48,682.42L1025.32,682.42Z" fill="#2ca02c"/>
<path d="M1049.00,701.78L1057.08,685.62L1040.92,685.62Z" fill="#2ca02c"/>
<path d="M1100.20,705.28L1108.28,689.12L1092.12,689.12Z" fill="#2ca02c"/>
<path d="M1136.00,705.28L1144.08,689.12L1127.92,689.12Z" fill="#2ca02c"/>
<path d="M1152.70,708.28L1160.78,692.12L1144.62,692.12Z" fill="#2ca02c"/>
<path d="M1202.00,712.48L1210.08,696.32L1193.92,696.32Z" fill="#2ca02c"/>
<path d="M1238.00,712.48L1246.08,696.32L1229.92,696.32Z" fill="#2ca02c"/>
<path d="M1254.40,714.38L1262.48,698.22L1246.32,698.22Z" fill="#2ca02c"/>
<path d="M1303.80,716.28L1311.88,700.12L1295.72,700.12Z" fill="#2ca02c"/>
<path d="M1340.00,718.48L1348.08,702.32L1331.92,702.32Z" fill="#2ca02c"/>
<path d="M1355.90,718.48L1363.98,702.32L1347.82,702.32Z" fill="#2ca02c"/>
<path d="M1407.00,720.68L1415.08,704.52L1398.92,704.52Z" fill="#2ca02c"/>
<path d="M1441.90,722.28L1449.98,706.12L1433.82,706.12Z" fill="#2ca02c"/>
<path d="M1457.90,723.88L1465.98,707.72L1449.82,707.72Z" fill="#2ca02c"/>
<path d="M433.40,568.23L440.26,556.80L433.40,545.37L426.54,556.80Z" fill="#ff7f0e"/>
<path d="M476.90,593.33L483.76,581.90L476.90,570.47L470.04,581.90Z" fill="#ff7f0e"/>
<path d="M528.10,627.03L534.96,615.60L528.10,604.17L521.24,615.60Z" fill="#ff7f0e"/>
<path d="M578.60,652.23L585.46,640.80L578.60,629.37L571.74,640.80Z" fill="#ff7f0e"/>
<path d="M630.30,667.33L637.16,655.90L630.30,644.47L623.44,655.90Z" fill="#ff7f0e"/>
<path d="M681.80,677.33L688.66,665.90L681.80,654.47L674.94,665.90Z" fill="#ff7f0e"/>
<path d="M731.90,688.33L738.76,676.90L731.90,665.47L725.04,676.90Z" fill="#ff7f0e"/>
<path d="M783.60,695.23L790.46,683.80L783.60,672.37L776.74,683.80Z" fill="#ff7f0e"/>
<path d="M835.20,702.23L842.06,690.80L835.20,679.37L828.34,690.80Z" fill="#ff7f0e"/>
<path d="M885.30,707.63L892.16,696.20L885.30,684.77L878.44,696.20Z" fill="#ff7f0e"/>
<path d="M946.80,706.63L953.66,695.20L946.80,683.77L939.94,695.20Z" fill="#ff7f0e"/>
<path d="M998.50,712.03L1005.36,700.60L998.50,689.17L991.64,700.60Z" fill="#ff7f0e"/>
<path d="M1048.70,714.83L1055.56,703.40L1048.70,691.97L1041.84,703.40Z" fill="#ff7f0e"/>
<path d="M1100.20,718.03L1107.06,706.60L1100.20,695.17L1093.34,706.60Z" fill="#ff7f0e"/>
<path d="M1151.70,721.63L1158.56,710.20L1151.70,698.77L1144.84,710.20Z" fill="#ff7f0e"/>
<path d="M1202.00,724.63L1208.86,713.20L1202.00,701.77L1195.14,713.20Z" fill="#ff7f0e"/>
<path d="M1253.50,726.03L1260.36,714.60L1253.50,703.17L1246.64,714.60Z" fill="#ff7f0e"/>
<path d="M1303.80,727.63L1310.66,716.20L1303.80,704.77L1296.94,716.20Z" fill="#ff7f0e"/>
<path d="M1355.30,729.63L1362.16,718.20L1355.30,706.77L1348.44,718.20Z" fill="#ff7f0e"/>
<path d="M1407.00,730.43L1413.86,719.00L1407.00,707.57L1400.14,719.00Z" fill="#ff7f0e"/>
<path d="M1457.50,733.03L1464.36,721.60L1457.50,710.17L1450.64,721.60Z" fill="#ff7f0e"/>
</g>
<path d="M131.40,459.80H1494.30" stroke="#000" stroke-width="2.90"/>
<path d="M348.20,755.50V459.80" stroke="#1f77b4" stroke-opacity="0.7" stroke-width="4.04" stroke-dasharray="14.95 6.47"/>
<path d="M131.40,755.50v9.43M321.50,755.50v9.43M348.20,755.50v9.43M509.70,755.50v9.43M699.50,755.50v9.43M888.90,755.50v9.43M1077.30,755.50v9.43M1267.00,755.50v9.43M1455.40,755.50v9.43M131.40,755.50h-9.43M131.40,608.00h-9.43M131.40,459.80h-9.43M131.40,313.50h-9.43M131.40,165.70h-9.43M131.40,18.00h-9.43" stroke="#000" stroke-width="2.16" fill="none"/>
<rect x="131.40" y="18.00" width="1362.90" height="737.50" fill="none" stroke="#000" stroke-width="2.16"/>
<g fill="#000">
<text x="64.12" y="32.20" font-size="38.00" letter-spacing="-0.80">50</text>
<text x="66.08" y="180.30" font-size="38.00" letter-spacing="-1.06">40</text>
<text x="64.36" y="326.95" font-size="38.00" letter-spacing="-0.99">30</text>
<text x="66.07" y="474.60" font-size="38.00" letter-spacing="-1.35">20</text>
<text x="64.31" y="622.60" font-size="38.00" letter-spacing="-0.94">10</text>
<text x="89.85" y="768.90" font-size="38.00">0</text>
<text x="102.55" y="804.00" font-size="38.00" letter-spacing="-0.90">0.0</text>
<text x="479.61" y="804.20" font-size="38.00" letter-spacing="-0.36">1.0</text>
<text x="669.31" y="804.20" font-size="38.00" letter-spacing="-0.43">1.5</text>
<text x="859.27" y="804.20" font-size="38.00" letter-spacing="-0.42">2.0</text>
<text x="1047.37" y="804.20" font-size="38.00" letter-spacing="-0.46">2.5</text>
<text x="1235.96" y="804.20" font-size="38.00" letter-spacing="-0.51">3.0</text>
<text x="1425.46" y="804.20" font-size="38.00" letter-spacing="-0.50">3.5</text>
<text x="699.10" y="451.50" font-size="35.33">Human Lungs</text>
<text x="309.30" y="807.00" font-size="37.90" class="i">ξ<tspan font-size="27.00" dx="-2.00" dy="5.90">max</tspan></text>
<text x="737.00" y="868.50" font-size="48.50" letter-spacing="0.00"><tspan class="i">ξ</tspan> / <tspan class="i">μ</tspan>m</text>
<g transform="translate(40.60 496.40) rotate(-90)" font-size="48.80"><text class="i" x="0" y="0">t</text><text class="i" x="18.90" y="6.25" font-size="33.60">max</text><text x="92.00" y="0"> / cm</text></g>
</g>
<g transform="translate(704.30 560.90) rotate(15.00)" fill="#d2691e" font-size="35.03" class="i"><text x="0" y="0">τ = 5</text><text x="93.30" y="0">V</text><text x="116.59" y="5.50" font-size="24.52">0</text><text transform="translate(135.60 4.40) scale(0.777 1)" font-size="52.90" style="font-family:'Liberation Serif','DejaVu Serif',serif;font-style:normal">√</text><text x="163.70" y="0">I</text><text x="176.54" y="5.50" font-size="24.52">0</text><rect x="159.40" y="-38.00" width="41.70" height="1.80"/></g>
<g transform="translate(375.10 691.70) rotate(15.00)" fill="#d2691e" font-size="35.03" class="i"><text x="0" y="0">τ =</text><text x="71.00" y="-15.30" font-size="24.52">1</text><text x="71.00" y="13.80" font-size="24.52">3</text><rect x="71.00" y="-11.30" width="15.60" height="1.80"/><text x="91.00" y="0">V</text><text x="114.29" y="5.50" font-size="24.52">0</text><text transform="translate(133.30 4.40) scale(0.777 1)" font-size="52.90" style="font-family:'Liberation Serif','DejaVu Serif',serif;font-style:normal">√</text><text x="161.40" y="0">I</text><text x="174.24" y="5.50" font-size="24.52">0</text><rect x="157.10" y="-38.00" width="41.70" height="1.80"/></g>
<rect x="777.80" y="37.30" width="697.20" height="129.60" rx="7.50" fill="#fff" fill-opacity="0.8" stroke="#ccc" stroke-width="2.69"/>
<path d="M793.40,68.60H868.60" stroke="#a52a2a" stroke-width="4.04" stroke-linecap="square"/>
<path d="M831.00,91.46L844.72,68.60L831.00,45.74L817.28,68.60Z" fill="#ff7f0e" stroke="#000" stroke-width="2.69" stroke-linejoin="miter"/>
<path d="M793.40,128.60H868.60" stroke="#006400" stroke-width="4.04" stroke-linecap="square"/>
<path d="M831.00,144.77L847.17,112.43L814.83,112.43Z" fill="#2ca02c" stroke="#000" stroke-width="2.69" stroke-linejoin="miter"/>
<g fill="#000">
<text x="898.35" y="82.10" font-size="38.00">Lung Inflated 1</text>
<text x="899.92" y="141.50" font-size="38.00" letter-spacing="-0.06">180 - 212 <tspan class="i">μ</tspan>m PMMA spheres</text>
</g>
</g></svg></body></html>
